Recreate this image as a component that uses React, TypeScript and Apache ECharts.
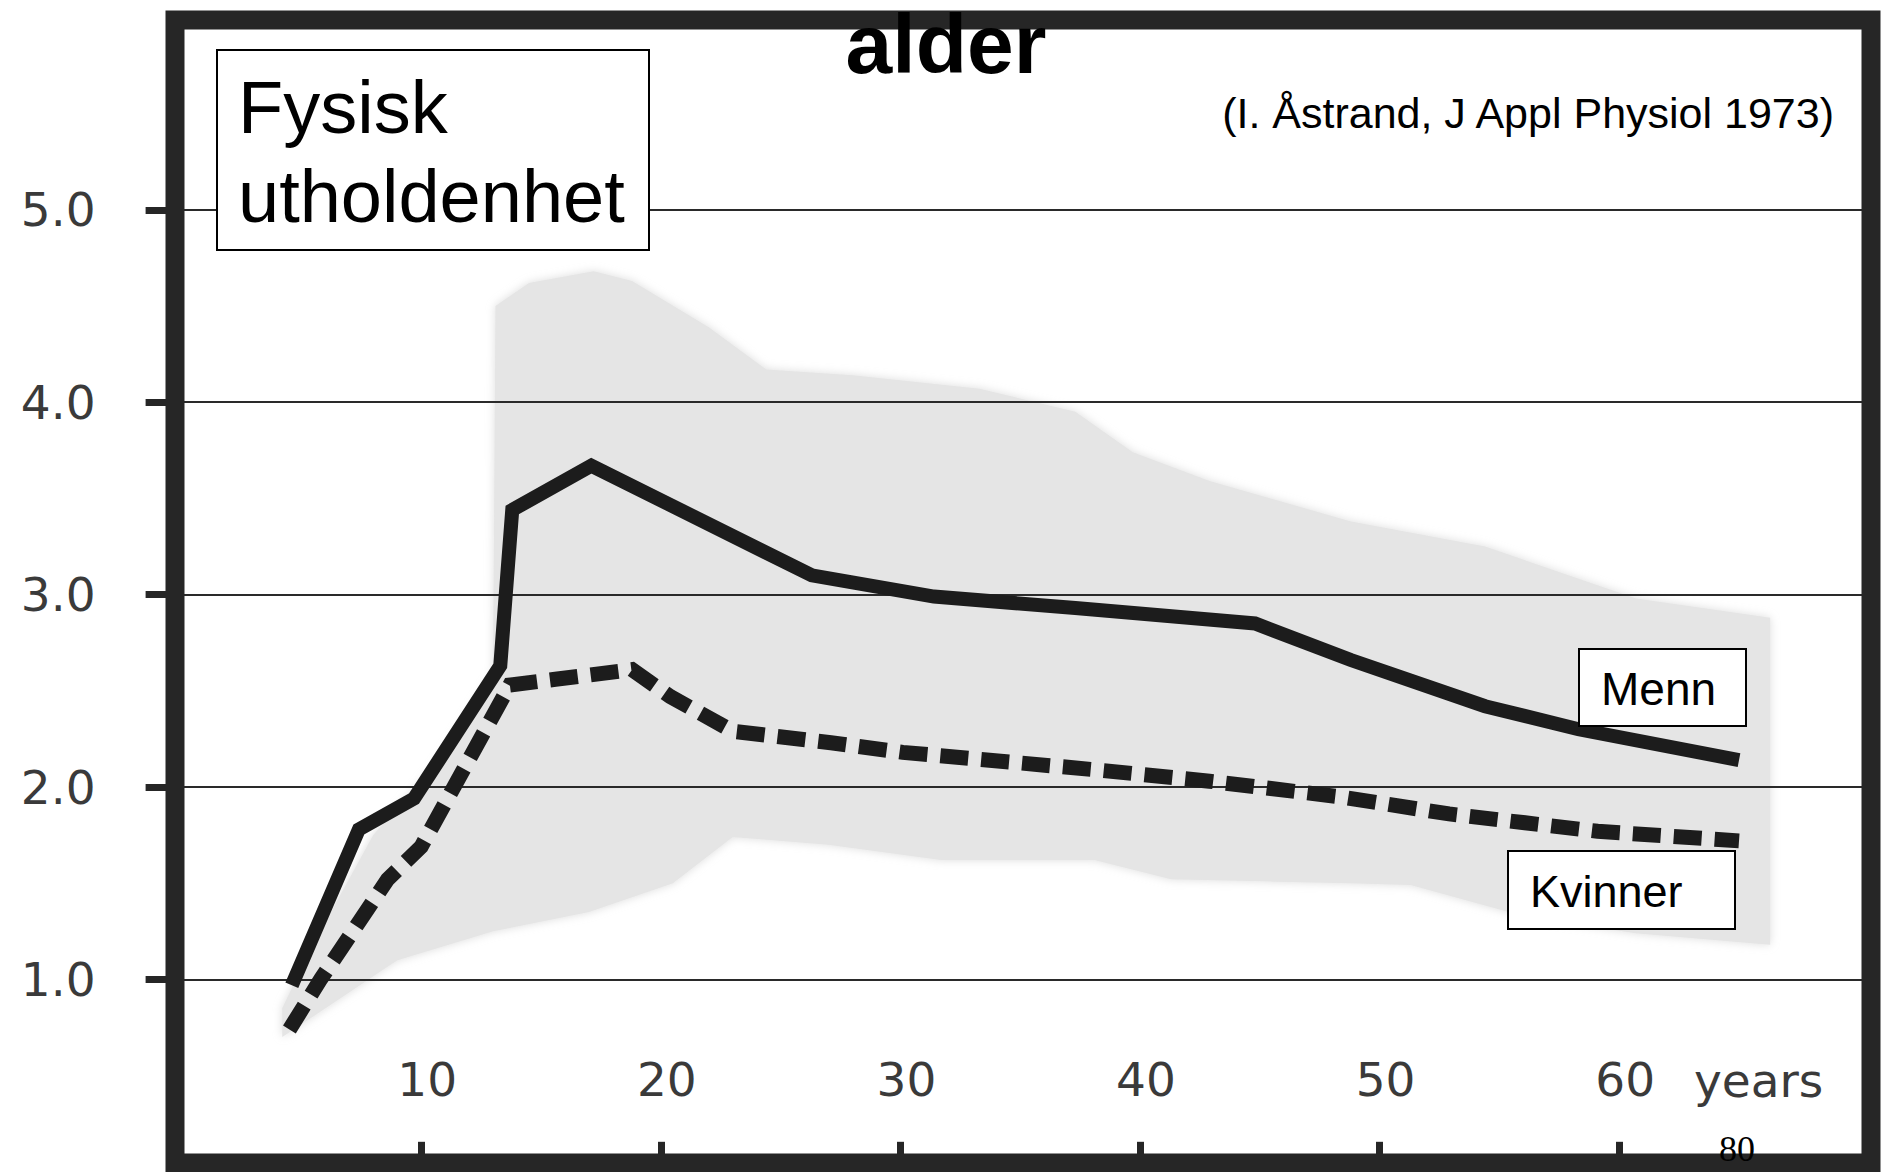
import React, { useEffect, useRef } from "react";
import * as echarts from "echarts";

// ---- data ----
const xTicks = [10, 20, 30, 40, 50, 60];
const yTicks = [1, 2, 3, 4, 5];

const menAges = [4.6, 7.4, 9.7, 13.3, 13.8, 17.1, 26.3, 31.4, 37.3, 44.8, 48.8, 54.4, 58.3, 65.0];
const menValues = [0.97, 1.78, 1.94, 2.63, 3.44, 3.67, 3.1, 2.99, 2.93, 2.85, 2.66, 2.42, 2.3, 2.14];

const womenAges = [4.5, 5.8, 8.6, 10.0, 13.7, 15.6, 18.8, 20.4, 23.0, 27.1, 30.1, 38.1, 42.9, 48.3, 52.9, 59.1, 65.0];
const womenValues = [0.74, 1.0, 1.52, 1.69, 2.53, 2.56, 2.61, 2.47, 2.29, 2.23, 2.18, 2.09, 2.03, 1.95, 1.86, 1.77, 1.72];

const bandUpperAges = [4.2, 5.4, 8.0, 10.5, 13.0, 13.1, 14.5, 17.2, 18.8, 22.0, 24.4, 28.0, 33.3, 37.3, 39.7, 42.9, 48.8, 54.4, 60.7, 66.3];
const bandUpperValues = [0.85, 1.16, 1.75, 2.1, 2.59, 4.5, 4.62, 4.68, 4.63, 4.39, 4.17, 4.14, 4.07, 3.95, 3.74, 3.59, 3.38, 3.25, 2.98, 2.88];
const bandLowerAges = [4.2, 6.0, 9.0, 13.0, 17.0, 20.5, 23.0, 27.0, 31.7, 38.1, 41.3, 48.8, 51.3, 56.0, 60.7, 66.3];
const bandLowerValues = [0.7, 0.85, 1.1, 1.25, 1.35, 1.5, 1.74, 1.7, 1.62, 1.62, 1.52, 1.5, 1.49, 1.33, 1.24, 1.18];

const titleText = "alder";
const sourceText = "(I. Åstrand, J Appl Physiol 1973)";
const boxLine1 = "Fysisk";
const boxLine2 = "utholdenhet";
const menLabel = "Menn";
const womenLabel = "Kvinner";
const unitLabel = "years";
const pageNumber = "80";

const pairs = (xs: number[], ys: number[]) => xs.map((x, i) => [x, ys[i]]);

export default function App() {
  const ref = useRef<HTMLDivElement>(null);

  useEffect(() => {
    if (!ref.current) return;
    const chart = echarts.init(ref.current, null, { renderer: "svg" });
    const bandPolygon = [
      ...pairs(bandUpperAges, bandUpperValues),
      ...pairs(bandLowerAges, bandLowerValues).reverse(),
    ];
    const tickFont = "DejaVu Sans";
    const sans = "Liberation Sans";

    chart.setOption({
      animation: false,
      backgroundColor: "#ffffff",
      grid: { left: 181.6, right: 13.2, top: 17.4, bottom: 0.2, containLabel: false, outerBoundsMode: "none" },
      xAxis: {
        type: "value",
        min: 0,
        max: 70.5,
        interval: 10,
        axisLine: { show: false },
        splitLine: { show: false },
        axisTick: {
          show: true,
          inside: true,
          length: 30,
          customValues: xTicks,
          lineStyle: { color: "#262626", width: 7 },
        },
        axisLabel: {
          inside: true,
          margin: 92,
          verticalAlign: "middle",
          customValues: xTicks,
          fontFamily: tickFont,
          fontSize: 47,
          color: "#3a3a3a",
          padding: [0, 0, 0, 12],
          formatter: (v: number) => (xTicks.includes(v) ? String(v) : ""),
        },
      },
      yAxis: {
        type: "value",
        min: 0,
        max: 6,
        interval: 1,
        axisLine: { show: false },
        axisTick: {
          show: true,
          length: 36,
          customValues: yTicks,
          lineStyle: { color: "#262626", width: 7 },
        },
        axisLabel: {
          margin: 86,
          customValues: yTicks,
          fontFamily: tickFont,
          fontSize: 47,
          color: "#3a3a3a",
          formatter: (v: number) => (yTicks.includes(v) ? v.toFixed(1) : ""),
        },
        splitLine: { show: true, lineStyle: { color: "#2a2a2a", width: 2 } },
      },
      series: [
        {
          type: "custom",
          name: "band",
          z: -1,
          silent: true,
          clip: false,
          data: [[0, 0]],
          renderItem: (_params: any, api: any) => ({
            type: "polygon",
            shape: { points: bandPolygon.map((p) => api.coord(p)) },
            style: { fill: "#e5e5e5", shadowBlur: 10, shadowColor: "rgba(218,218,218,0.9)" },
          }),
        },
        {
          type: "line",
          name: menLabel,
          data: pairs(menAges, menValues),
          symbol: "none",
          lineStyle: { color: "#1c1c1c", width: 14, join: "miter" },
          z: 3,
        },
        {
          type: "line",
          name: womenLabel,
          data: pairs(womenAges, womenValues),
          symbol: "none",
          lineStyle: { color: "#1c1c1c", width: 15, type: [28, 13], cap: "butt", join: "miter" },
          z: 3,
        },
      ],
      graphic: [
        {
          type: "rect",
          z: 50,
          silent: true,
          shape: { x: 175, y: 20, width: 1696, height: 1143 },
          style: { fill: "none", stroke: "#262626", lineWidth: 19 },
        },
        {
          type: "text",
          z: 60,
          x: 946,
          y: 2,
          style: { text: titleText, fontFamily: sans, fontWeight: "bold", fontSize: 84, fill: "#000", align: "center", verticalAlign: "top" },
        },
        {
          type: "text",
          z: 60,
          x: 1834,
          y: 113,
          style: { text: sourceText, fontFamily: sans, fontSize: 43, fill: "#000", align: "right", verticalAlign: "middle" },
        },
        {
          type: "rect",
          z: 100,
          shape: { x: 217, y: 50, width: 432, height: 200 },
          style: { fill: "#fff", stroke: "#000", lineWidth: 2 },
        },
        {
          type: "text",
          z: 101,
          x: 238,
          y: 107,
          style: { text: boxLine1, fontFamily: sans, fontSize: 74, fill: "#000", align: "left", verticalAlign: "middle" },
        },
        {
          type: "text",
          z: 101,
          x: 238,
          y: 196,
          style: { text: boxLine2, fontFamily: sans, fontSize: 74, fill: "#000", align: "left", verticalAlign: "middle" },
        },
        {
          type: "rect",
          z: 100,
          shape: { x: 1579, y: 649, width: 167, height: 77 },
          style: { fill: "#fff", stroke: "#000", lineWidth: 2 },
        },
        {
          type: "text",
          z: 101,
          x: 1601,
          y: 689,
          style: { text: menLabel, fontFamily: sans, fontSize: 46, fill: "#000", align: "left", verticalAlign: "middle" },
        },
        {
          type: "rect",
          z: 100,
          shape: { x: 1508, y: 851, width: 227, height: 78 },
          style: { fill: "#fff", stroke: "#000", lineWidth: 2 },
        },
        {
          type: "text",
          z: 101,
          x: 1530,
          y: 891,
          style: { text: womenLabel, fontFamily: sans, fontSize: 45, fill: "#000", align: "left", verticalAlign: "middle" },
        },
        {
          type: "text",
          z: 60,
          x: 1694,
          y: 1080,
          style: { text: unitLabel, fontFamily: tickFont, fontSize: 47, fill: "#3a3a3a", align: "left", verticalAlign: "middle" },
        },
        {
          type: "text",
          z: 60,
          x: 1737,
          y: 1149,
          style: { text: pageNumber, fontFamily: "Liberation Serif", fontSize: 36, fill: "#000", align: "center", verticalAlign: "middle" },
        },
      ],
    });
    return () => chart.dispose();
  }, []);

  return (
    <div
      ref={ref}
      style={{ position: "absolute", left: 0, top: 0, width: "1884px", height: "1172px" }}
    />
  );
}
